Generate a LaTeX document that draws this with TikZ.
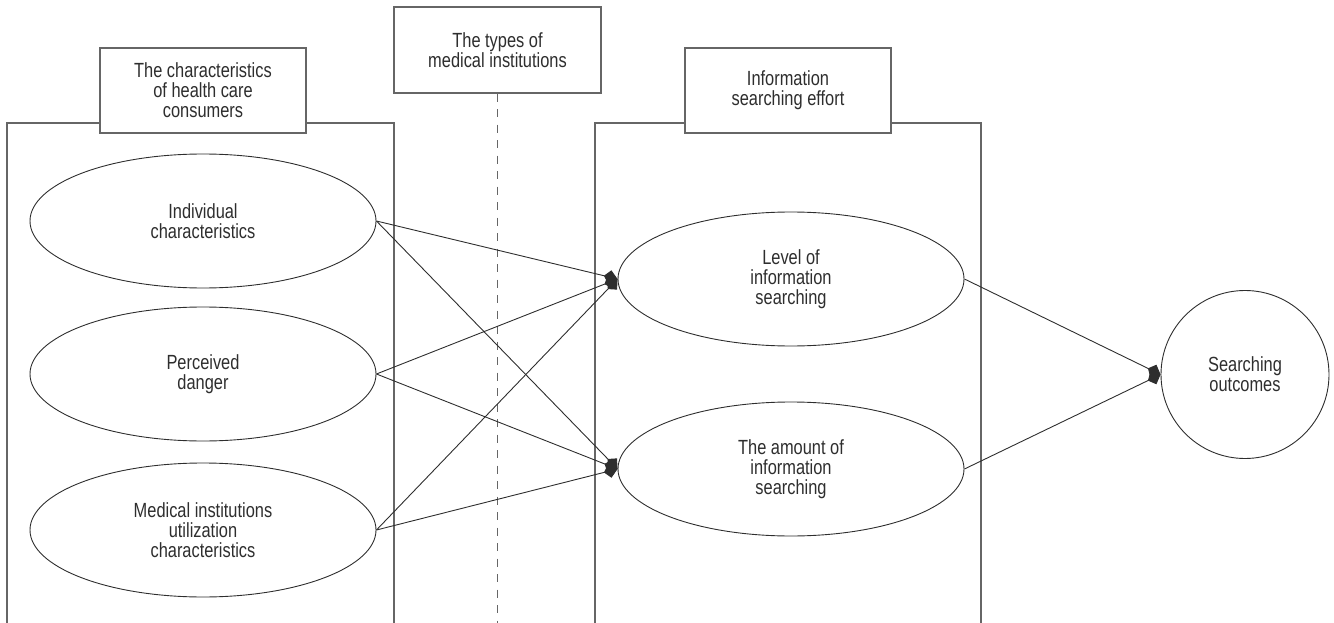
\documentclass[tikz,border=0pt]{standalone}
\usepackage{fontspec}
\setmainfont{Liberation Sans}[FakeStretch=0.8]
\usetikzlibrary{shapes.geometric,arrows.meta}
\definecolor{txt}{HTML}{2E2E2E}
\definecolor{boxc}{HTML}{666666}
\begin{document}
\begin{tikzpicture}[x=1pt,y=-1pt,
  every node/.style={font=\fontsize{20.5}{20}\selectfont, text=txt, align=center},
  ell/.style={ellipse, draw=txt, line width=0.9pt, minimum width=346pt, minimum height=134pt, inner sep=0pt},
  titlebox/.style={draw=boxc, line width=1.4pt, fill=white, inner sep=0pt},
  frame/.style={draw=boxc, line width=1.4pt},
  link/.style={draw=txt, line width=0.9pt, -{Kite[length=14pt,width=14pt,inset=6pt]}}]
\useasboundingbox (0,0) rectangle (1334,623);
% open frames
\draw[frame] (7,623) -- (7,123) -- (394,123) -- (394,623);
\draw[frame] (595,623) -- (595,123) -- (981,123) -- (981,623);
% title boxes
\node[titlebox, minimum width=206pt, minimum height=85pt] (t1) at (203,90.5) {The characteristics\\of health care\\consumers};
\node[titlebox, minimum width=207pt, minimum height=86pt] (t2) at (497.5,50) {The types of\\medical institutions};
\node[titlebox, minimum width=206pt, minimum height=85pt] (t3) at (788,90.5) {Information\\searching effort};
\coordinate (dashend) at (497.5,623);
\draw[boxc, line width=1.3pt, dash pattern=on 8pt off 7.5pt] (t2.south) -- (dashend);
% ellipses
\node[ell] (ind) at (203,221) {Individual\\characteristics};
\node[ell] (per) at (203,374) {Perceived\\danger};
\node[ell] (med) at (203,530) {Medical institutions\\utilization\\characteristics};
\node[ell] (lvl) at (791,279) {Level of\\information\\searching};
\node[ell] (amt) at (791,469) {The amount of\\information\\searching};
\node[circle, draw=txt, line width=0.9pt, minimum size=168pt, inner sep=0pt] (out) at (1245,374.5) {Searching\\outcomes};
% connectors
\draw[link] (ind.east) -- (lvl.west);
\draw[link] (ind.east) -- (amt.west);
\draw[link] (per.east) -- (lvl.west);
\draw[link] (per.east) -- (amt.west);
\draw[link] (med.east) -- (lvl.west);
\draw[link] (med.east) -- (amt.west);
\draw[link] (lvl.east) -- (out.west);
\draw[link] (amt.east) -- (out.west);
\end{tikzpicture}
\end{document}
